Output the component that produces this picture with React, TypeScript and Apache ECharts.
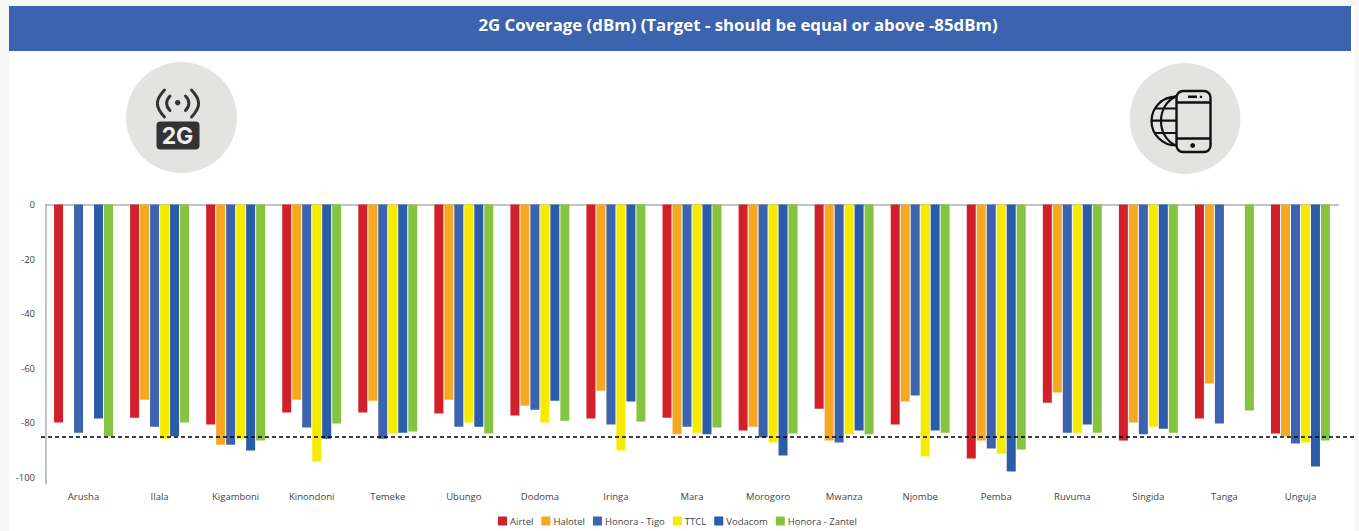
import React, { useEffect, useRef } from "react";
import * as echarts from "echarts";

const districts = ["Arusha", "Ilala", "Kigamboni", "Kinondoni", "Temeke", "Ubungo", "Dodoma", "Iringa", "Mara", "Morogoro", "Mwanza", "Njombe", "Pemba", "Ruvuma", "Singida", "Tanga", "Unguja"];

const airtel = [-79.9, -78.1, -80.6, -76.2, -76.2, -76.6, -77.3, -78.4, -78.1, -82.8, -74.8, -80.6, -93.1, -72.6, -86.5, -78.4, -83.9];
const halotel = [null, -71.5, -88, -71.5, -71.9, -71.5, -73.7, -68.2, -84.2, -81.4, -86.5, -72.2, -86.5, -68.9, -79.9, -65.6, -84.9];
const honoraTigo = [-83.6, -81.4, -88, -81.7, -85.8, -81.4, -75.2, -80.6, -81.4, -85.4, -87.2, -70, -89.4, -83.6, -84.2, -80.2, -87.6];
const ttcl = [null, -85.8, -85.8, -94.2, -83.9, -79.9, -79.9, -90.1, -83.6, -87.2, -84.2, -92.3, -91.2, -83.6, -81.4, null, -87.2];
const vodacom = [-78.4, -84.9, -90.1, -85.8, -83.6, -81.4, -71.9, -72.2, -84.2, -92, -82.8, -82.8, -97.8, -80.6, -82.2, null, -96];
const honoraZantel = [-84.9, -79.9, -86.5, -80.2, -83.2, -83.9, -79.2, -79.5, -81.7, -83.9, -84.2, -83.6, -89.8, -83.6, -83.6, -75.5, -86.5];

const yTicks = [0, -20, -40, -60, -80, -100];
const targetDbm = -85;

const seriesDefs = [
  { name: "Airtel", values: airtel, color: "#d1202a" },
  { name: "Halotel", values: halotel, color: "#f6a821" },
  { name: "Honora - Tigo", values: honoraTigo, color: "#3c63ad" },
  { name: "TTCL", values: ttcl, color: "#f6eb00" },
  { name: "Vodacom", values: vodacom, color: "#2b5ca8" },
  { name: "Honora - Zantel", values: honoraZantel, color: "#85c441" },
];

const FONT = "'Open Sans', sans-serif";
const LABEL = "#444444";

// Outlines for the two round badges.
echarts.graphic.registerShape(
  "signalWaves",
  echarts.graphic.extendPath(
    "M164.5 90 C155 100 155 107 164.5 117 M191.5 90 C201 100 201 107 191.5 117 M170 96 C165.5 100.5 165.5 106 170 110.5 M185.5 96 C190 100.5 190 106 185.5 110.5",
    {}
  )
);
echarts.graphic.registerShape(
  "globeLines",
  echarts.graphic.extendPath(
    "M1176 96.5 A24.5 24.5 0 0 0 1176 145.5 M1176 96.5 C1156 105 1156 137 1176 145.5 M1176 96.5 C1166 98 1163 100 1160 102 M1151 120.7 L1176 120.7 M1155 108.5 L1176 108.5 M1155 133 L1176 133",
    {}
  )
);
echarts.graphic.registerShape(
  "phoneBody",
  echarts.graphic.extendPath(
    "M1183 91 L1204 91 A6.5 6.5 0 0 1 1210.5 97.5 L1210.5 145.5 A6.5 6.5 0 0 1 1204 152 L1183 152 A6.5 6.5 0 0 1 1176.5 145.5 L1176.5 97.5 A6.5 6.5 0 0 1 1183 91 Z M1176.5 102.5 L1210.5 102.5 M1176.5 138.5 L1210.5 138.5 M1188 96.8 L1197 96.8",
    {}
  )
);

export default function App() {
  const ref = useRef<HTMLDivElement>(null);

  useEffect(() => {
    const chart = echarts.init(ref.current!, undefined, { renderer: "svg" });
    const badge = "#e3e3e2";
    const ink = "#333333";
    const black = "#111111";
    chart.setOption({
      animation: false,
      backgroundColor: "transparent",
      textStyle: { fontFamily: FONT },
      title: {
        text: "2G Coverage (dBm) (Target - should be equal or above -85dBm)",
        left: 733,
        top: 11,
        textAlign: "center",
        textStyle: { color: "#ffffff", fontFamily: FONT, fontWeight: "bold", fontSize: 16.8 },
      },
      grid: { left: 45.5, right: 20.5, top: 204.5, bottom: 47, containLabel: false },
      legend: {
        left: 498,
        top: 516,
        padding: 0,
        itemWidth: 9,
        itemHeight: 9,
        itemGap: 8,
        icon: "rect",
        textStyle: { color: LABEL, fontSize: 9.5, fontFamily: FONT, padding: [0, 0, 0, -2] },
      },
      xAxis: [
        {
          type: "category",
          data: districts,
          position: "bottom",
          axisLine: { show: false },
          axisTick: { show: false },
          axisLabel: { color: LABEL, fontSize: 9.5, fontFamily: FONT, margin: 7, interval: 0 },
        },
        {
          type: "category",
          data: districts,
          position: "top",
          axisLine: { show: true, lineStyle: { color: "#aeb2b6", width: 1.5 } },
          axisTick: { show: false },
          axisLabel: { show: false },
        },
      ],
      yAxis: {
        type: "value",
        min: -102.4,
        max: 0,
        splitLine: { show: false },
        axisLine: { show: true, lineStyle: { color: "#aeb2b6", width: 1.5 } },
        axisTick: { show: false },
        axisLabel: { color: LABEL, fontSize: 9.5, fontFamily: FONT, margin: 10.5, customValues: yTicks },
      },
      series: seriesDefs.map((s, i) => ({
        type: "bar",
        name: s.name,
        data: s.values,
        barWidth: 9,
        barGap: "11%",
        itemStyle: { color: s.color },
        ...(i === 0
          ? {
              clip: false,
              markLine: {
                silent: true,
                symbol: "none",
                label: { show: false },
                lineStyle: { color: "#000000", type: [4, 3], width: 1.5 },
                data: [[{ x: 41, yAxis: targetDbm }, { x: 1355, yAxis: targetDbm }]],
              },
            }
          : {}),
      })),
      graphic: [
        // Page panel and header band
        { type: "rect", z: -10, shape: { x: 9, y: 6, width: 1346, height: 525 }, style: { fill: "#ffffff" } },
        { type: "rect", z: -9, shape: { x: 9, y: 6, width: 1342, height: 45 }, style: { fill: "#3c63ad" } },
        // 2G badge
        { type: "circle", z: -8, shape: { cx: 181.5, cy: 117.5, r: 55.5 }, style: { fill: badge } },
        { type: "signalWaves", z: -7, x: 0, y: 0, style: { stroke: ink, fill: "none", lineWidth: 3, lineCap: "round" } },
        { type: "circle", z: -7, shape: { cx: 177.7, cy: 102.7, r: 2.7 }, style: { fill: ink } },
        { type: "rect", z: -7, shape: { x: 156.5, y: 121.5, width: 43, height: 28, r: 4 }, style: { fill: ink } },
        {
          type: "text",
          z: -6,
          x: 177.5,
          y: 135.5,
          style: { text: "2G", fill: "#eeeeee", font: "bold 23px Inter, sans-serif", textAlign: "center", textVerticalAlign: "middle" },
        },
        // Phone and globe badge
        { type: "circle", z: -8, shape: { cx: 1185, cy: 118.5, r: 55.5 }, style: { fill: badge } },
        { type: "globeLines", z: -7, x: 0, y: 0, style: { stroke: black, fill: "none", lineWidth: 2.2 } },
        { type: "phoneBody", z: -6, x: 0, y: 0, style: { stroke: black, fill: "none", lineWidth: 2.4 } },
        { type: "circle", z: -6, shape: { cx: 1201, cy: 96.8, r: 1.3 }, style: { fill: black } },
        { type: "circle", z: -6, shape: { cx: 1192.7, cy: 145.5, r: 2.4 }, style: { fill: black } },
      ],
    });
    return () => chart.dispose();
  }, []);

  return (
    <div
      ref={ref}
      style={{ position: "fixed", left: 0, top: 0, width: 1359, height: 531, background: "#f6f6f6" }}
    />
  );
}
